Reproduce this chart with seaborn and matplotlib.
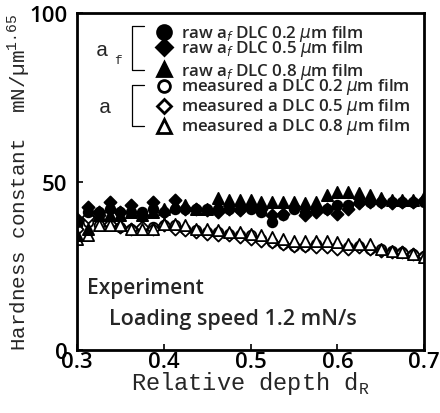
import numpy as np
import pandas as pd
import matplotlib
matplotlib.use("Agg")
import matplotlib.pyplot as plt
import seaborn as sns

# ---- data ----
depth = [0.300, 0.3125, 0.325, 0.3375, 0.350, 0.3625, 0.375, 0.3875, 0.400, 0.4125,
         0.425, 0.4375, 0.450, 0.4625, 0.475, 0.4875, 0.500, 0.5125, 0.525, 0.5375,
         0.550, 0.5625, 0.575, 0.5875, 0.600, 0.6125, 0.625, 0.6375, 0.650, 0.6625,
         0.675, 0.6875, 0.700]

raw_02 = [38, 41, 41, 42, 41, 41, 41, 42, 41, 42, 42, 42, 42, 42, 42, 42, 42, 41, 38, 40,
          42, 41, 42, 42, 43, 43, 44, 44, 44, 44, 44, 44, 44]
raw_05 = [39, 42.5, 41, 44, 41, 43, 40, 44, 41, 44.5, 42, 42, 41.5, 41, 42, 41.5, 42.5, 42, 40, 40.5,
          42.5, 40, 41, 42, 40.5, 42, 43.5, 44, 44, 43.5, 44, 44, 44.5]
raw_08 = [34, 36, 40, 40, 40, 41, 40, 41, 42, 43, 43, 42, 42, 45, 44.5, 44.5, 44.5, 44, 44, 44,
          44, 43.5, 44, 46, 47, 47, 46.5, 46, 45, 44.5, 44.5, 44.5, 45.5]
meas_02 = [37, 38, 37, 37, 36.5, 36, 36, 36.5, 37, 37, 36, 35.5, 35, 35, 34.5, 34, 34, 33, 32, 31.5,
           31, 31, 31.5, 31, 30.5, 30.5, 31, 30, 30, 29.5, 29, 28.5, 28]
meas_05 = [36, 39.5, 40, 37.5, 36.5, 36, 36.5, 36, 37, 36, 35.5, 35, 34.5, 34, 34, 33.5, 33, 32.5, 32, 31.5,
           31, 31, 30.5, 30.5, 30, 30, 30.5, 30, 29.5, 29, 29, 28.5, 28]
meas_08 = [33, 34, 37, 37, 37, 36, 36, 36, 37.5, 37.5, 37, 36, 36, 35.5, 35, 35, 34.5, 34, 33.5, 33,
           32.5, 32.5, 32.5, 32.5, 32, 31.5, 31.5, 31.5, 30, 29.5, 29, 28.5, 27.5]

series = [
    ("raw a$_f$ DLC 0.2 $\\mu$m film", raw_02, "o", True),
    ("raw a$_f$ DLC 0.5 $\\mu$m film", raw_05, "D", True),
    ("raw a$_f$ DLC 0.8 $\\mu$m film", raw_08, "^", True),
    ("measured a DLC 0.2 $\\mu$m film", meas_02, "o", False),
    ("measured a DLC 0.5 $\\mu$m film", meas_05, "D", False),
    ("measured a DLC 0.8 $\\mu$m film", meas_08, "^", False),
]

xticks = [0.3, 0.4, 0.5, 0.6, 0.7]
yticks = [0, 50, 100]

sns.set_theme(style="white")
plt.rcParams['font.family'] = ['Open Sans', 'DejaVu Sans']
plt.rcParams['mathtext.fontset'] = 'dejavusans'
W = "semibold"

fig = plt.figure(figsize=(4.4, 4.14), dpi=100)
ax = fig.add_axes([0.175, 0.152, 0.789, 0.814])

sizes = {"o": 48, "D": 38, "^": 65}
order = [3, 4, 5, 0, 1, 2]
for i in order:
    label, vals, m, filled = series[i]
    df = pd.DataFrame({"x": depth, "y": vals})
    sns.scatterplot(data=df, x="x", y="y", ax=ax, marker=m, s=sizes[m],
                    facecolor="black" if filled else "white",
                    edgecolor="black", linewidth=1.3, zorder=3 if filled else 2,
                    legend=False)

ax.set_xlim(0.3, 0.7)
ax.set_ylim(0, 100)
ax.set_xticks(xticks)
ax.set_yticks(yticks)
ax.set_xticklabels(["0.3", "0.4", "0.5", "0.6", "0.7"], fontweight=W)
ax.set_yticklabels(["0", "50", "100"], fontweight=W)
ax.tick_params(direction="in", length=4, width=1.2, labelsize=16,
               bottom=True, left=True, top=False, right=False, colors="black")
ax.tick_params(axis="x", pad=0.5)
ax.tick_params(axis="y", pad=7)
for sp in ax.spines.values():
    sp.set_linewidth(2)
    sp.set_color("black")

ax.set_xlabel("Relative depth d$_\\mathregular{R}$", family="Liberation Mono", fontsize=17,
              labelpad=-2)
ax.set_ylabel("Hardness constant  mN/\u00b5m$^\\mathregular{1.65}$", family="Liberation Mono",
              fontsize=15)
ax.yaxis.set_label_coords(-0.126, 0.5)

# legend drawn manually
text_y = [34, 49, 72, 87, 107, 127]
mark_y = [33, 48, 70, 87, 107, 127]
H = 414.0
def ay(py):
    fy = 1 - py / H
    return (fy - 0.152) / 0.814
def ax_x(px):
    fx = px / 440.0
    return (fx - 0.175) / 0.789

for (label, vals, m, filled), ty, my in zip(series, text_y, mark_y):
    ms = {"o": 10 if filled else 8.5, "D": 8.5 if filled else 7.5, "^": 10}[m]
    ax.plot([ax_x(164)], [ay(my)], marker=m, markersize=ms,
            markerfacecolor="black" if filled else "white", markeredgecolor="black",
            markeredgewidth=2, linestyle="none", transform=ax.transAxes, clip_on=False)
    ax.text(ax_x(181), ay(ty), label, transform=ax.transAxes, fontsize=12.2,
            fontweight=W, va="center", ha="left")

def bracket(top, bot, x0, x1):
    ax.plot([ax_x(x1), ax_x(x0), ax_x(x0), ax_x(x1)],
            [ay(top), ay(top), ay(bot), ay(bot)], color="black", lw=0.9,
            transform=ax.transAxes)
bracket(27, 71, 132, 144)
bracket(86, 127, 132, 144)
ax.text(ax_x(96), ay(50), "a", transform=ax.transAxes, fontsize=15, family="Liberation Mono",
        va="center", ha="left")
ax.text(ax_x(114), ay(61), "f", transform=ax.transAxes, fontsize=9, family="Liberation Mono",
        va="center", ha="left")
ax.text(ax_x(99), ay(107), "a", transform=ax.transAxes, fontsize=15, family="Liberation Mono",
        va="center", ha="left")

ax.text(ax_x(87), ay(289), "Experiment", transform=ax.transAxes, fontsize=15,
        fontweight=W, va="center", ha="left")
ax.text(ax_x(109), ay(320), "Loading speed 1.2 mN/s", transform=ax.transAxes, fontsize=15.5,
        fontweight=W, va="center", ha="left")

fig.savefig("out.png", dpi=100)
